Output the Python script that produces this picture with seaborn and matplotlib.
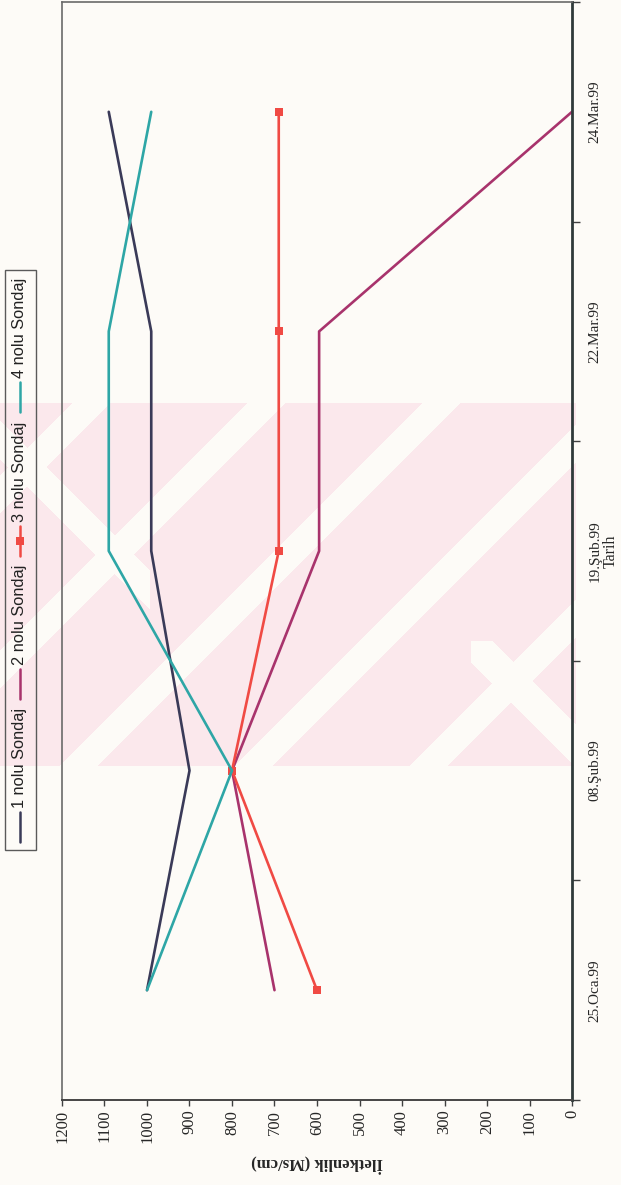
import numpy as np
import pandas as pd
import matplotlib
matplotlib.use("Agg")
import matplotlib.pyplot as plt
import seaborn as sns
from matplotlib.lines import Line2D
from matplotlib.patches import Rectangle

# ---- data -------------------------------------------------------------
dates = ["25.Oca.99", "08.Şub.99", "19.Şub.99", "22.Mar.99", "24.Mar.99"]
sondaj_1 = [1000, 900, 990, 990, 1090]
sondaj_2 = [700, 800, 595, 595, 0]
sondaj_3 = [600, 800, 690, 690, 690]
sondaj_4 = [1000, 800, 1090, 1090, 990]
series_names = ["1 nolu Sondaj", "2 nolu Sondaj", "3 nolu Sondaj", "4 nolu Sondaj"]
value_ticks = list(range(0, 1201, 100))

colors = ["#3a3a58", "#a8336c", "#f04a44", "#2ea6a6"]
markers = [None, None, "s", None]

# ---- styling ----------------------------------------------------------
sns.set_theme(style="ticks")
plt.rcParams["font.family"] = ["Liberation Serif", "DejaVu Serif"]
paper = "#fdfbf7"

W, H = 621, 1185
fig = plt.figure(figsize=(W / 100, H / 100), dpi=100, facecolor=paper)


def fx(px):
    return px / W


def fy(py):
    return 1 - py / H


# faint pink diagonal watermark band behind the plot
bg = fig.add_axes([0, 0, 1, 1], zorder=0)
bg.set_axis_off()
yy, xx = np.mgrid[0:H, 0:W]
band = (yy >= 403) & (yy <= 765) & (xx <= 575)
stripe_a = ((xx + yy - 1000) % 175) < 38
stripe_b = (xx < 150) & (np.abs((xx - yy) + 440) < 20)
stripe_c = (xx > 470) & (np.abs((yy - xx) - 170) < 22) & (yy > 640)
pink_mask = band & ~stripe_a & ~stripe_b & ~stripe_c
img = np.ones((H, W, 3))
img[:] = np.array([253, 251, 247]) / 255
img[pink_mask] = np.array([251, 232, 236]) / 255
bg.imshow(img, extent=[0, W, H, 0], aspect="auto", interpolation="bilinear")
bg.set_xlim(0, W)
bg.set_ylim(H, 0)

# ---- main plot (value axis horizontal, reversed; dates run upward) ------
ax = fig.add_axes([fx(62), fy(1100), fx(572) - fx(62), fy(2) - fy(1100)], zorder=1)
ax.set_facecolor("none")

rows = []
for name, vals in zip(series_names, [sondaj_1, sondaj_2, sondaj_3, sondaj_4]):
    for i, v in enumerate(vals):
        rows.append({"seri": name, "pos": i, "deger": v})
df = pd.DataFrame(rows)

for name, col, mk in zip(series_names, colors, markers):
    sub = df[df["seri"] == name]
    kw = dict(marker=mk, markersize=6, markeredgewidth=0) if mk else {}
    sns.lineplot(data=sub, x="deger", y="pos", sort=False, estimator=None,
                 orient="y", color=col, lw=1.9, ax=ax, legend=False, **kw)

ax.set_xlim(1200, 0)
ax.set_xticks(value_ticks)
ax.set_xticklabels([str(v) for v in value_ticks], rotation=90, fontsize=12)
ax.tick_params(axis="x", direction="out", length=4, width=1, color="#404040",
               pad=3, bottom=True, top=False)
ax.set_xlabel("İletkenlik (Ms/cm)", rotation=180, fontsize=12,
              fontweight="bold", labelpad=8)

ax.yaxis.tick_right()
ax.yaxis.set_label_position("right")
ax.set_ylim(-0.5, len(dates) - 0.5)
ax.set_yticks(range(len(dates)))
ax.set_yticklabels(dates, rotation=90, va="center", fontsize=11)
ax.set_yticks(np.arange(-0.5, len(dates), 1), minor=True)
ax.tick_params(axis="y", which="major", length=0, pad=12, right=True, left=False)
ax.tick_params(axis="y", which="minor", length=6, width=1, direction="out",
               color="#404040", right=True, left=False)
ax.set_ylabel("Tarih", rotation=90, fontsize=11.5, labelpad=1)

for side in ["left", "top"]:
    ax.spines[side].set_color("#6a6a6a")
    ax.spines[side].set_linewidth(1.2)
ax.spines["bottom"].set_color("#454545")
ax.spines["bottom"].set_linewidth(1.4)
ax.spines["right"].set_color("#2f3a3a")
ax.spines["right"].set_linewidth(2.0)
ax.grid(False)

# ---- legend, laid out along the vertical direction -----------------------
renderer = fig.canvas.get_renderer()
lx = 20
line_len, gap_in, gap_out, pad = 30, 4, 9, 8
texts = []
lengths = []
for name in series_names:
    t = fig.text(0, 0, name, rotation=90, fontsize=11.8,
                 family=["Liberation Sans", "DejaVu Sans"],
                 ha="center", va="bottom", color="#222222", zorder=3)
    bb = t.get_window_extent(renderer=renderer)
    texts.append(t)
    lengths.append(bb.height)
total = sum(line_len + gap_in + L for L in lengths) + gap_out * (len(series_names) - 1)
center = 560
cursor = center + total / 2  # pixel row, measured from the top
box_bottom = cursor + pad
for t, L, col, mk in zip(texts, lengths, colors, markers):
    y0, y1 = cursor, cursor - line_len
    fig.add_artist(Line2D([fx(lx), fx(lx)], [fy(y0), fy(y1)], color=col, lw=1.8,
                          transform=fig.transFigure, zorder=3))
    if mk:
        fig.add_artist(Line2D([fx(lx)], [fy((y0 + y1) / 2)], color=col, marker=mk,
                              markersize=6, markeredgewidth=0,
                              transform=fig.transFigure, zorder=3))
    cursor = y1 - gap_in
    t.set_position((fx(lx), fy(cursor)))
    cursor -= L + gap_out
box_top = cursor + gap_out - pad
fig.add_artist(Rectangle((fx(5), fy(box_bottom)), fx(36) - fx(5),
                         fy(box_top) - fy(box_bottom), fill=False,
                         edgecolor="#5a5a5a", lw=1.0,
                         transform=fig.transFigure, zorder=3))

fig.savefig("out.png", dpi=100, facecolor=paper)
